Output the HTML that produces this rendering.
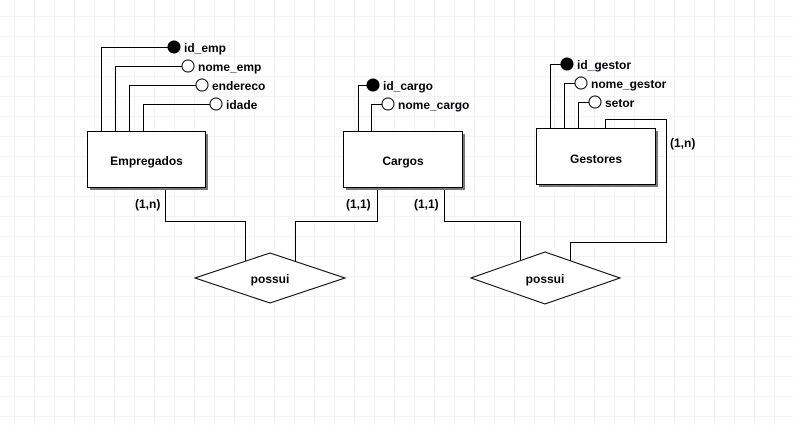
<!DOCTYPE html>
<html><head><meta charset="utf-8"><style>
html,body{margin:0;padding:0;background:#fff;}
svg{display:block;}
text{font-family:"Liberation Sans",Arial,sans-serif;font-weight:bold;font-size:12px;fill:#000;}
</style></head><body>
<svg width="793" height="425" xmlns="http://www.w3.org/2000/svg">
<defs>
<pattern id="g" x="14" y="16" width="20" height="20" patternUnits="userSpaceOnUse">
<path d="M0 0H20M0 0V20" stroke="#e6eef7" stroke-width="1.2" fill="none"/>
</pattern>
</defs>
<rect width="793" height="425" fill="#fff"/>
<rect width="793" height="425" fill="url(#g)"/>
<g stroke="#000" stroke-width="1" fill="none">
<!-- Empregados attrs -->
<path d="M101.5 132V47.5H168"/>
<path d="M115.5 132V66.5H182"/>
<path d="M129.5 132V85.5H196"/>
<path d="M143.5 132V104.5H210"/>
<!-- Cargos attrs -->
<path d="M358.5 132V85.5H367"/>
<path d="M371.5 132V104.5H382"/>
<!-- Gestores attrs -->
<path d="M550.5 129V64.5H561"/>
<path d="M564.5 129V83.5H575"/>
<path d="M578.5 129V102.5H589"/>
<!-- relationships -->
<path d="M165.5 188V221.5H245.5V262"/>
<path d="M295.5 262V221.5H377.5V188"/>
<path d="M444.5 188V221.5H520.5V262"/>
<path d="M605.5 129V119.5H666.5V242.5H570.5V262"/>
</g>
<!-- boxes with shadow -->
<g>
<rect x="90" y="134" width="118" height="56" fill="#777"/>
<rect x="87.5" y="131.5" width="118" height="56" fill="#fff" stroke="#000"/>
<rect x="346" y="134" width="119" height="56" fill="#777"/>
<rect x="343.5" y="131.5" width="119" height="56" fill="#fff" stroke="#000"/>
<rect x="539" y="131" width="119" height="56" fill="#777"/>
<rect x="536.5" y="128.5" width="119" height="56" fill="#fff" stroke="#000"/>
</g>
<!-- circles -->
<g stroke="#000" stroke-width="1">
<circle cx="174" cy="47" r="6" fill="#000"/>
<circle cx="188" cy="66" r="6" fill="#fff"/>
<circle cx="202" cy="85" r="6" fill="#fff"/>
<circle cx="216" cy="104" r="6" fill="#fff"/>
<circle cx="373" cy="85" r="6" fill="#000"/>
<circle cx="388" cy="104" r="6" fill="#fff"/>
<circle cx="567" cy="64" r="6" fill="#000"/>
<circle cx="581" cy="83" r="6" fill="#fff"/>
<circle cx="595" cy="102" r="6" fill="#fff"/>
</g>
<!-- diamonds -->
<polygon points="195,278 270,253 345,278 270,303" fill="#fff" stroke="#000"/>
<polygon points="471,278 545,252 620,278 545,304" fill="#fff" stroke="#000"/>
<!-- labels -->
<text x="184" y="52">id_emp</text>
<text x="198" y="71">nome_emp</text>
<text x="212" y="90">endereco</text>
<text x="226" y="109">idade</text>
<text x="383" y="90">id_cargo</text>
<text x="398" y="109">nome_cargo</text>
<text x="577" y="69">id_gestor</text>
<text x="591" y="88">nome_gestor</text>
<text x="605" y="107">setor</text>
<text x="146.5" y="165" text-anchor="middle">Empregados</text>
<text x="403" y="165" text-anchor="middle">Cargos</text>
<text x="596" y="163" text-anchor="middle">Gestores</text>
<text x="270" y="283" text-anchor="middle">possui</text>
<text x="545" y="283" text-anchor="middle">possui</text>
<text x="135" y="208">(1,n)</text>
<text x="346" y="208">(1,1)</text>
<text x="414" y="208">(1,1)</text>
<text x="670" y="147">(1,n)</text>
</svg>
</body></html>
